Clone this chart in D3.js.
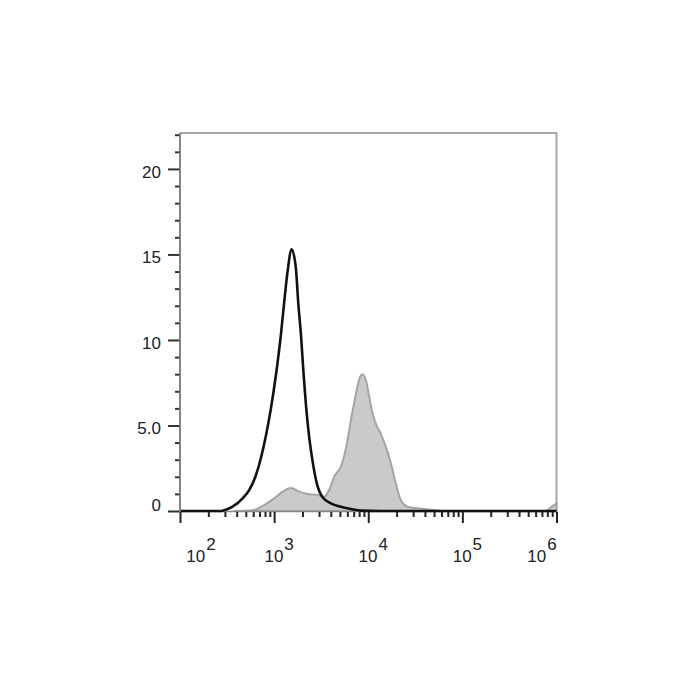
<!DOCTYPE html>
<html>
<head>
<meta charset="utf-8">
<script src="https://cdn.jsdelivr.net/npm/d3@7/dist/d3.min.js"></script>
<style>
  html, body { margin: 0; padding: 0; background: #fff; }
  svg { display: block; }
  text { font-family: "Liberation Sans", Arial, sans-serif; fill: #222; }
</style>
</head>
<body>
<svg id="chart" width="700" height="700"></svg>
<script>
// ---- data ----
const isoX = [100, 272, 284, 362, 463, 545, 641, 724, 818, 925, 1045, 1180, 1279, 1390, 1535, 1702, 1803, 1928, 2056, 2178, 2360, 2564, 2844, 3273, 4009, 5117, 6531, 8337, 13490, 1000000];
const isoY = [0, 0, 0.02, 0.25, 0.74, 1.23, 2.1, 3.1, 4.4, 6.0, 7.95, 10.3, 12.2, 14.0, 15.3, 14.2, 12.2, 10.3, 8.0, 6.2, 4.3, 2.9, 1.6, 0.8, 0.45, 0.25, 0.12, 0.02, 0, 0];

const stainX = [374, 592, 785, 1002, 1230, 1507, 1845, 2268, 2898, 3404, 3900, 4345, 5117, 5546, 6026, 6531, 7079, 7691, 8199, 8703, 9441, 10230, 11117, 12050, 13610, 15380, 17380, 19630, 22180, 26120, 33340, 50120, 66680, 767000, 911000, 1000000];
const stainY = [0, 0.05, 0.35, 0.74, 1.13, 1.35, 1.13, 1.0, 0.94, 0.84, 1.3, 2.0, 2.6, 3.2, 4.15, 5.3, 6.3, 7.3, 7.85, 8.0, 7.66, 6.7, 5.7, 5.1, 4.5, 3.76, 2.8, 1.6, 0.64, 0.25, 0.16, 0.06, 0, 0, 0.3, 0.45];

const yMajorTicks = [0, 5, 10, 15, 20];
const yMajorLabels = ["0", "5.0", "10", "15", "20"];
const yMinorTicks = [1, 2, 3, 4, 6, 7, 8, 9, 11, 12, 13, 14, 16, 17, 18, 19, 21, 22];
const xMajorTicks = [1e2, 1e3, 1e4, 1e5, 1e6];
const xMajorExp = ["2", "3", "4", "5", "6"];
const xDomain = [1e2, 1e6];
const yDomain = [0, 22.1];

// ---- layout ----
const mLeft = 180, mRight = 556.5, mTop = 133, mBottom = 511;

const svg = d3.select("#chart");
const x = d3.scaleLog().domain(xDomain).range([mLeft, mRight]);
const y = d3.scaleLinear().domain(yDomain).range([mBottom, mTop]);

const xMinorTicks = [];
for (let k = 2; k < 6; k++) for (let m = 2; m <= 9; m++) xMinorTicks.push(m * Math.pow(10, k));

// frame (top/right)
svg.append("path")
  .attr("d", `M${mLeft},${mTop}H${mRight}V${mBottom}`)
  .attr("fill", "none").attr("stroke", "#a8a8a8").attr("stroke-width", 2);

// stained histogram (filled)
const stain = stainX.map((v, i) => [v, stainY[i]]);
svg.append("path")
  .datum(stain)
  .attr("d", d3.area().x(d => x(d[0])).y0(y(0)).y1(d => y(d[1])).curve(d3.curveMonotoneX))
  .attr("fill", "#cacaca")
  .attr("stroke", "#a4a4a4")
  .attr("stroke-width", 2);

// x axis line
svg.append("line").attr("x1", mLeft).attr("x2", mRight).attr("y1", mBottom + 0.5).attr("y2", mBottom + 0.5)
  .attr("stroke", "#888").attr("stroke-width", 1.5);

// isotype histogram (line)
const iso = isoX.map((v, i) => [v, isoY[i]]);
svg.append("path")
  .datum(iso)
  .attr("d", d3.line().x(d => x(d[0])).y(d => y(d[1])).curve(d3.curveMonotoneX))
  .attr("fill", "none")
  .attr("stroke", "#111")
  .attr("stroke-width", 2.6)
  .attr("stroke-linejoin", "round");

// y axis
const yMinor = svg.append("g").attr("transform", `translate(${mLeft},0)`)
  .call(d3.axisLeft(y).tickValues(yMinorTicks).tickSize(5).tickFormat(""));
const yMajor = svg.append("g").attr("transform", `translate(${mLeft},0)`)
  .call(d3.axisLeft(y).tickValues(yMajorTicks).tickSize(12).tickPadding(7)
    .tickFormat((d, i) => yMajorLabels[i]));
[yMinor, yMajor].forEach(g => {
  g.select(".domain").remove();
  g.selectAll(".tick line").attr("stroke", "#333").attr("stroke-width", 2);
});
yMajor.selectAll(".tick text")
  .style("font-size", "17px")
  .attr("dy", null)
  .attr("dominant-baseline", "central")
  .attr("y", function(d) { return d === 0 ? -6 : 3; });
svg.append("line").attr("x1", mLeft).attr("x2", mLeft).attr("y1", mTop).attr("y2", mBottom + 1)
  .attr("stroke", "#777").attr("stroke-width", 1.8);

// x axis
const xMinor = svg.append("g").attr("transform", `translate(0,${mBottom + 1})`)
  .call(d3.axisBottom(x).tickValues(xMinorTicks).tickSize(5).tickFormat(""));
const xMajor = svg.append("g").attr("transform", `translate(0,${mBottom + 1})`)
  .call(d3.axisBottom(x).tickValues(xMajorTicks).tickSize(11).tickFormat(""));
[xMinor, xMajor].forEach(g => {
  g.select(".domain").remove();
  g.selectAll(".tick line").attr("stroke", "#222").attr("stroke-width", 2);
});

// x tick labels: 10 with superscript exponent
const xl = svg.append("g");
xMajorTicks.forEach((t, i) => {
  const cx = Math.max(201, Math.min(542, x(t) + 5));
  const txt = xl.append("text")
    .attr("x", cx).attr("y", 562)
    .attr("text-anchor", "middle")
    .style("font-size", "17px");
  txt.append("tspan").text("10");
  txt.append("tspan").attr("dy", -12).attr("dx", 1).style("font-size", "17px").text(xMajorExp[i]);
});
</script>
</body>
</html>
